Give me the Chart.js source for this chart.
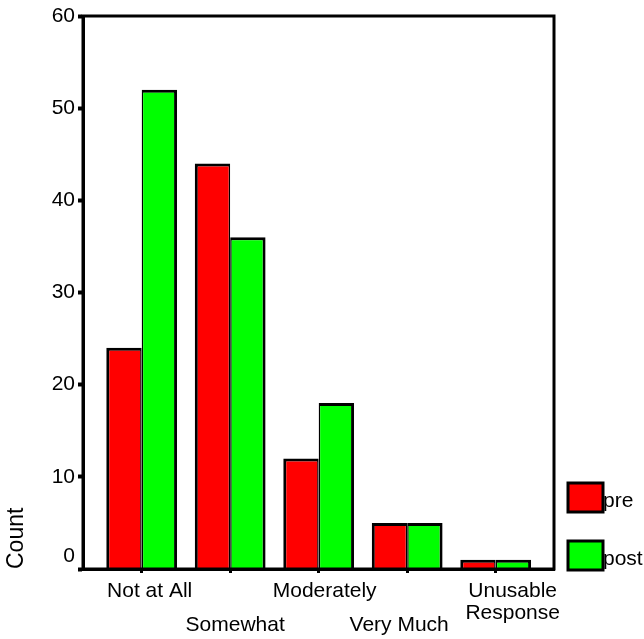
<!DOCTYPE html>
<html>
<head>
<meta charset="utf-8">
<script src="https://cdn.jsdelivr.net/npm/chart.js@4"></script>
<style>
html,body{margin:0;padding:0;background:#fff;}
canvas{display:block;}
</style>
</head>
<body>
<canvas id="c" width="644" height="639"></canvas>
<script>
// ---- data ----
const categories = ['Not at All', 'Somewhat', 'Moderately', 'Very Much', ['Unusable', 'Response']];
const seriesNames = ['pre', 'post'];
const preValues = [24, 44, 12, 5, 1];
const postValues = [52, 36, 18, 5, 1];
const yTicks = [0, 10, 20, 30, 40, 50, 60];

const FONT = "'Liberation Sans', Arial, sans-serif";
const colors = ['#ff0000', '#00ff00'];

// staggered x labels: row per category and small horizontal nudge
const labelRow = [0, 1, 0, 1, 0];
const labelNudge = [8, 5, 6, -8, 17];

const frameAndLabels = {
  id: 'frameAndLabels',
  afterDatasetsDraw(chart) {
    const {ctx, chartArea: a} = chart;
    ctx.save();
    ctx.strokeStyle = '#000';
    ctx.lineWidth = 3;
    ctx.strokeRect(a.left, a.top, a.right - a.left, a.bottom - a.top);
    ctx.restore();
  },
  afterDraw(chart) {
    const {ctx, chartArea: a} = chart;
    const xs = chart.scales.x;
    ctx.save();
    ctx.fillStyle = '#000';
    ctx.font = '21px ' + FONT;
    ctx.textAlign = 'center';
    ctx.textBaseline = 'middle';
    categories.forEach((lab, i) => {
      const lines = Array.isArray(lab) ? lab : [lab];
      const x = xs.getPixelForValue(i) + labelNudge[i];
      const y0 = a.bottom + 22 + labelRow[i] * 34;
      lines.forEach((ln, k) => ctx.fillText(ln, x, y0 + k * 22));
    });
    // legend
    chart.data.datasets.forEach((ds, i) => {
      const bx = a.right + 14;
      const by = a.bottom - 86 + i * 58;
      ctx.fillStyle = ds.backgroundColor;
      ctx.fillRect(bx, by, 35, 29);
      ctx.strokeStyle = '#000';
      ctx.lineWidth = 3;
      ctx.strokeRect(bx, by, 35, 29);
      ctx.fillStyle = '#000';
      ctx.textAlign = 'left';
      ctx.textBaseline = 'alphabetic';
      ctx.fillText(ds.label, bx + 35, by + 24);
    });
    ctx.restore();
  }
};

new Chart(document.getElementById('c'), {
  type: 'bar',
  data: {
    datasets: [
      {
        label: seriesNames[0],
        data: preValues.map((v, i) => ({x: i, y: v})),
        backgroundColor: colors[0],
        borderColor: '#000',
        borderWidth: {top: 3, left: 3, right: 1.5, bottom: 0},
        borderSkipped: 'bottom'
      },
      {
        label: seriesNames[1],
        data: postValues.map((v, i) => ({x: i, y: v})),
        backgroundColor: colors[1],
        borderColor: '#000',
        borderWidth: {top: 3, left: 1.5, right: 3, bottom: 0},
        borderSkipped: 'bottom'
      }
    ]
  },
  options: {
    responsive: false,
    animation: false,
    devicePixelRatio: 1,
    categoryPercentage: 0.8,
    barPercentage: 1.0,
    layout: {padding: {top: 16, right: 90, bottom: 0, left: 0}},
    plugins: {legend: {display: false}, tooltip: {enabled: false}},
    scales: {
      x: {
        type: 'linear',
        min: -0.663,
        max: 4.659,
        offset: false,
        ticks: {display: false, stepSize: 1, includeBounds: false},
        grid: {display: true, offset: false, drawOnChartArea: false, drawTicks: true, tickLength: 4, tickWidth: 3, tickColor: '#000', color: '#000'},
        border: {display: true, color: '#000', width: 3},
        afterFit(s) { s.height = 70; }
      },
      y: {
        min: 0,
        max: 60,
        afterBuildTicks(s) { s.ticks = yTicks.map(v => ({value: v})); },
        ticks: {
          color: '#000',
          font: {family: FONT, size: 21},
          padding: 3,
          callback: (v) => v === 0 ? ['0', ''] : String(v)
        },
        grid: {display: true, drawOnChartArea: false, drawTicks: true, tickLength: 5, tickWidth: 4, tickColor: '#000', color: '#000'},
        border: {display: true, color: '#000', width: 3},
        title: {display: true, text: 'Count', color: '#000', font: {family: FONT, size: 23}, align: 'start', padding: {top: 3, bottom: 0}},
        afterFit(s) { s.width = 83; }
      }
    }
  },
  plugins: [frameAndLabels]
});
</script>
</body>
</html>
